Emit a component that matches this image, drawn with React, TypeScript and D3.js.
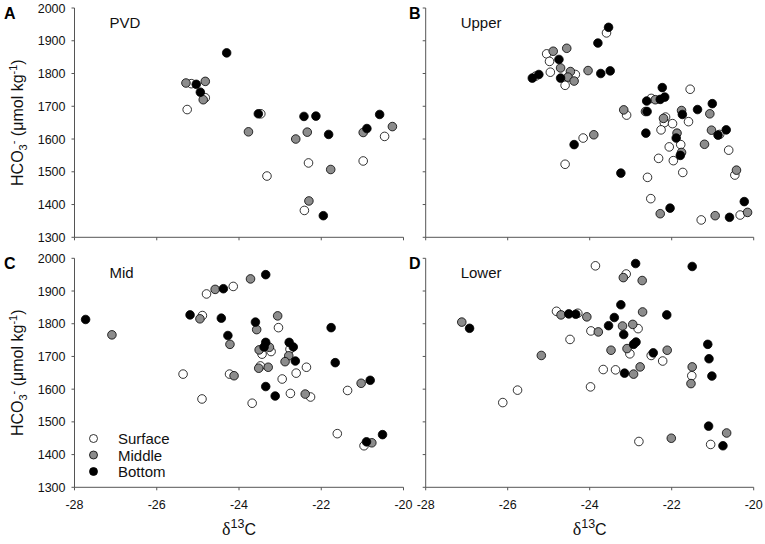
import React from "react";
import * as d3 from "d3";

type P = [number, number];

// Panel A – PVD
const pvdSurface: P[] = [[-25.16, 1769], [-24.82, 1726], [-25.26, 1690], [-23.47, 1677], [-23.32, 1487], [-22.31, 1527], [-22.41, 1382], [-20.46, 1608], [-20.98, 1533]];
const pvdMiddle: P[] = [[-25.29, 1771], [-24.82, 1776], [-24.87, 1720], [-23.77, 1622], [-22.34, 1621], [-22.62, 1600], [-21.77, 1507], [-22.30, 1411], [-20.98, 1620], [-20.27, 1638]];
const pvdBottom: P[] = [[-25.04, 1767], [-24.94, 1743], [-24.30, 1863], [-23.53, 1677], [-22.42, 1669], [-22.13, 1670], [-21.82, 1614], [-21.95, 1366], [-20.89, 1632], [-20.58, 1675]];

// Panel B – Upper
const upperSurface: P[] = [[-25.32, 1792], [-25.05, 1860], [-24.98, 1837], [-24.96, 1804], [-24.35, 1797], [-24.60, 1764], [-23.59, 1924], [-24.16, 1603], [-24.60, 1523], [-23.10, 1673], [-22.50, 1724], [-22.15, 1667], [-22.18, 1650], [-21.98, 1647], [-22.26, 1628], [-22.06, 1576], [-21.78, 1583], [-22.32, 1541], [-21.96, 1534], [-21.73, 1498], [-22.59, 1483], [-21.55, 1752], [-21.59, 1653], [-20.83, 1614], [-20.61, 1566], [-20.46, 1490], [-22.51, 1418], [-21.28, 1353], [-20.33, 1368]];
const upperMiddle: P[] = [[-24.89, 1868], [-24.71, 1817], [-24.56, 1877], [-24.47, 1806], [-24.53, 1789], [-24.38, 1777], [-24.04, 1809], [-23.90, 1613], [-23.17, 1689], [-22.40, 1720], [-22.64, 1684], [-21.76, 1687], [-22.20, 1663], [-21.87, 1618], [-21.76, 1559], [-21.07, 1677], [-21.03, 1627], [-21.20, 1584], [-20.42, 1505], [-22.28, 1372], [-20.94, 1366], [-20.15, 1376]];
const upperBottom: P[] = [[-25.40, 1786], [-25.24, 1797], [-24.75, 1843], [-24.71, 1786], [-23.80, 1893], [-23.54, 1941], [-23.73, 1800], [-23.50, 1808], [-24.38, 1583], [-23.24, 1496], [-22.61, 1716], [-22.28, 1721], [-22.17, 1728], [-22.23, 1757], [-22.60, 1684], [-21.74, 1675], [-21.89, 1603], [-22.63, 1618], [-21.79, 1550], [-21.37, 1690], [-21.01, 1708], [-20.87, 1612], [-20.67, 1628], [-22.04, 1389], [-20.59, 1361], [-20.23, 1409]];

// Panel C – Mid
const midSurface: P[] = [[-25.36, 1646], [-24.90, 1570], [-24.79, 1891], [-24.14, 1914], [-24.89, 1825], [-24.23, 1646], [-23.68, 1557], [-23.04, 1788], [-23.44, 1707], [-23.22, 1715], [-23.48, 1671], [-22.61, 1649], [-22.36, 1667], [-22.95, 1631], [-22.75, 1587], [-22.26, 1576], [-22.76, 1722], [-21.36, 1596], [-21.61, 1464], [-20.96, 1427]];
const midMiddle: P[] = [[-27.09, 1766], [-24.58, 1905], [-23.72, 1937], [-24.95, 1815], [-24.22, 1737], [-24.12, 1641], [-23.57, 1782], [-23.06, 1824], [-23.51, 1720], [-23.26, 1728], [-23.52, 1664], [-23.29, 1667], [-22.79, 1702], [-22.88, 1684], [-22.39, 1585], [-21.03, 1618], [-20.77, 1436]];
const midBottom: P[] = [[-27.73, 1813], [-24.38, 1907], [-23.35, 1950], [-25.19, 1827], [-24.43, 1817], [-24.27, 1764], [-23.60, 1805], [-23.35, 1743], [-23.39, 1729], [-22.78, 1743], [-22.68, 1729], [-22.63, 1686], [-23.35, 1608], [-23.12, 1579], [-21.76, 1788], [-21.66, 1681], [-20.81, 1627], [-20.90, 1439], [-20.51, 1461]];

// Panel D – Lower
const lowerSurface: P[] = [[-26.12, 1559], [-25.76, 1597], [-24.81, 1838], [-24.29, 1832], [-24.48, 1752], [-23.97, 1778], [-23.86, 1977], [-23.37, 1659], [-23.67, 1660], [-23.98, 1607], [-23.11, 1952], [-22.82, 1785], [-23.02, 1708], [-22.50, 1703], [-22.22, 1686], [-22.80, 1440], [-21.51, 1641], [-21.05, 1431]];
const lowerMiddle: P[] = [[-27.12, 1805], [-25.18, 1703], [-24.70, 1827], [-24.07, 1821], [-23.79, 1775], [-23.20, 1793], [-23.18, 1941], [-22.72, 1932], [-22.95, 1798], [-22.71, 1836], [-23.09, 1724], [-23.48, 1719], [-22.93, 1646], [-22.77, 1668], [-22.11, 1719], [-22.01, 1450], [-21.50, 1668], [-21.53, 1617], [-20.66, 1466]];
const lowerBottom: P[] = [[-26.93, 1786], [-24.51, 1830], [-24.34, 1829], [-23.54, 1794], [-23.40, 1819], [-23.24, 1858], [-23.17, 1767], [-22.88, 1984], [-22.93, 1737], [-22.87, 1744], [-23.15, 1649], [-22.45, 1711], [-22.12, 1827], [-21.50, 1975], [-21.12, 1737], [-21.09, 1693], [-21.02, 1640], [-21.10, 1487], [-20.75, 1427]];

const xTicks = [-28, -26, -24, -22, -20];
const yTicks = [1300, 1400, 1500, 1600, 1700, 1800, 1900, 2000];
const seriesNames = ["Surface", "Middle", "Bottom"];
const seriesFills = ["#ffffff", "#8c8c8c", "#000000"];

const panels = [
  { letter: "A", title: "PVD", data: [pvdSurface, pvdMiddle, pvdBottom], col: 0, row: 0 },
  { letter: "B", title: "Upper", data: [upperSurface, upperMiddle, upperBottom], col: 1, row: 0 },
  { letter: "C", title: "Mid", data: [midSurface, midMiddle, midBottom], col: 0, row: 1 },
  { letter: "D", title: "Lower", data: [lowerSurface, lowerMiddle, lowerBottom], col: 1, row: 1 },
];

const FONT = "Liberation Sans, Arial, sans-serif";
const AX = "#555";

export default function App() {
  const colX = [[74.5, 403.5], [425.7, 753.7]];
  const rowY = [[237.3, 8], [487.3, 258.3]];
  return (
    <svg width={765} height={544} style={{ position: "absolute", left: 0, top: 0, background: "#fff" }} fontFamily={FONT}>
      {panels.map((p) => {
        const x = d3.scaleLinear().domain([-28, -20]).range(colX[p.col]);
        const y = d3.scaleLinear().domain([1300, 2000]).range(rowY[p.row]);
        const x0 = colX[p.col][0], x1 = colX[p.col][1];
        const y0 = rowY[p.row][0], y1 = rowY[p.row][1];
        return (
          <g key={p.letter}>
            <line x1={x0} x2={x1} y1={y0} y2={y0} stroke={AX} strokeWidth={1} />
            <line x1={x0} x2={x0} y1={y0} y2={y1} stroke={AX} strokeWidth={1} />
            {xTicks.map((t) => (
              <g key={"x" + t}>
                <line x1={x(t)} x2={x(t)} y1={y0} y2={y0 + 3} stroke={AX} />
                {p.row === 1 && (
                  <text x={x(t)} y={y0 + 22} fontSize={12.5} textAnchor="middle" fill="#111">{t}</text>
                )}
              </g>
            ))}
            {yTicks.map((t) => (
              <g key={"y" + t}>
                <line x1={x0 - 3} x2={x0} y1={y(t)} y2={y(t)} stroke={AX} />
                {p.col === 0 && (
                  <text x={x0 - 9} y={y(t) + 4.5} fontSize={12.5} textAnchor="end" fill="#111">{t}</text>
                )}
              </g>
            ))}
            <text x={p.col === 0 ? 4 : 409} y={y1 + 11} fontSize={16} fontWeight="bold" fill="#000">{p.letter}</text>
            <text x={x0 + 35} y={y1 + 20} fontSize={15} fill="#111">{p.title}</text>
            {p.data.map((series, si) =>
              series.map((d, i) => (
                <circle key={si + "-" + i} cx={x(d[0])} cy={y(d[1])} r={4.3} fill={seriesFills[si]} stroke="#000" strokeWidth={0.8} />
              ))
            )}
            {p.col === 0 && (
              <text transform={`translate(23,${(y0 + y1) / 2}) rotate(-90)`} fontSize={16} textAnchor="middle" fill="#111">
                HCO<tspan dy={4} fontSize={11}>3</tspan><tspan dy={-10} fontSize={11}>-</tspan><tspan dy={6}> (μmol kg</tspan><tspan dy={-6} fontSize={11}>-1</tspan><tspan dy={6}>)</tspan>
              </text>
            )}
            {p.row === 1 && (
              <text x={(x0 + x1) / 2} y={535} fontSize={16} textAnchor="middle" fill="#111">
                <tspan fontFamily="Liberation Serif, serif" fontSize={18}>δ</tspan><tspan dy={-7} fontSize={12.5}>13</tspan><tspan dy={7}>C</tspan>
              </text>
            )}
            {p.letter === "C" &&
              seriesNames.map((n, si) => (
                <g key={n}>
                  <circle cx={93.5} cy={438.5 + si * 16.5} r={4} fill={seriesFills[si]} stroke="#000" strokeWidth={0.8} />
                  <text x={118} y={444 + si * 16.5} fontSize={15} fill="#111">{n}</text>
                </g>
              ))}
          </g>
        );
      })}
    </svg>
  );
}
